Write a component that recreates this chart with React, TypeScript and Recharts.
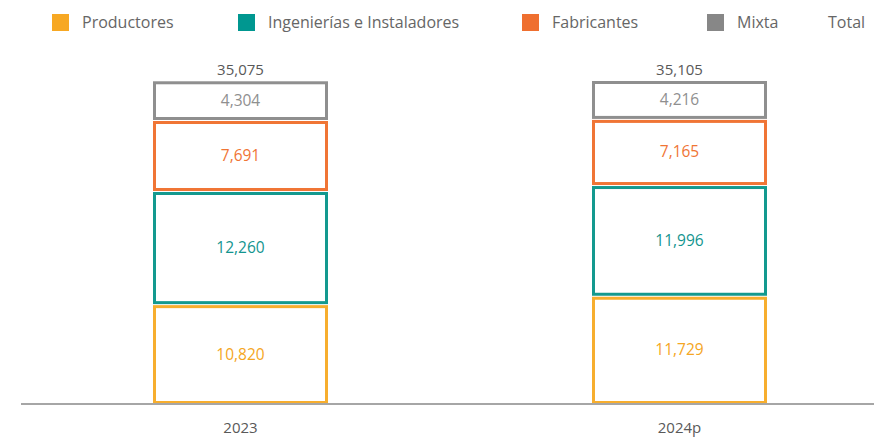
import { BarChart, Bar, XAxis, YAxis, LabelList } from 'recharts';

const YEARS = ['2023', '2024p'];
const PRODUCTORES = [10820, 11729];
const INGENIERIAS = [12260, 11996];
const FABRICANTES = [7691, 7165];
const MIXTA = [4304, 4216];
const TOTALS = [35075, 35105];

const SERIES = [
  { key: 'productores', name: 'Productores', stroke: '#F7AE2E', label: '#F5A623', swatch: '#F7A823' },
  { key: 'ingenierias', name: 'Ingenierías e Instaladores', stroke: '#13998F', label: '#13958F', swatch: '#009790' },
  { key: 'fabricantes', name: 'Fabricantes', stroke: '#F07535', label: '#F07535', swatch: '#EF6F2F' },
  { key: 'mixta', name: 'Mixta', stroke: '#8F8F8F', label: '#8F8F8F', swatch: '#878787' },
];

const data = YEARS.map((year, i) => ({
  year,
  productores: PRODUCTORES[i],
  ingenierias: INGENIERIAS[i],
  fabricantes: FABRICANTES[i],
  mixta: MIXTA[i],
  total: TOTALS[i],
}));

const FONT = '"Open Sans", sans-serif';
const fmt = (v: number) => v.toLocaleString('en-US');

// outlined segment, inset so strokes stay inside and leave a thin gap
function OutlineBar(props: any) {
  const { x, y, width, height, stroke } = props;
  if (!height) return null;
  return (
    <rect
      x={x + 1.5}
      y={y + 2.5}
      width={width - 3}
      height={height - 4}
      fill="#fff"
      stroke={stroke}
      strokeWidth={3}
    />
  );
}

const LEGEND_X = [52, 238, 522, 707];

function ChartLegend() {
  return (
    <div style={{ position: 'absolute', left: 0, top: 0, width: 874, height: 44, fontFamily: FONT, fontSize: 16, color: '#666' }}>
      {SERIES.map((s, i) => (
        <div key={s.key} style={{ position: 'absolute', left: LEGEND_X[i], top: 14, display: 'flex', alignItems: 'center', lineHeight: '17px' }}>
          <span style={{ width: 17, height: 17, background: s.swatch, display: 'inline-block', marginRight: 13 }} />
          <span>{s.name}</span>
        </div>
      ))}
      <div style={{ position: 'absolute', left: 828, top: 14, lineHeight: '17px' }}>Total</div>
    </div>
  );
}

function TotalLabel(props: any) {
  const { x, y, width, index } = props;
  return (
    <text x={x + width / 2} y={y - 5} textAnchor="middle" fill="#595959" fontSize={15} fontFamily={FONT}>
      {fmt(TOTALS[index])}
    </text>
  );
}

export default function App() {
  return (
    <div style={{ position: 'absolute', left: 0, top: 0, width: 874, height: 442, overflow: 'hidden', background: '#fff' }}>
      <BarChart
        width={920}
        height={442}
        data={data}
        margin={{ top: 80, right: 21, bottom: 0, left: 21 }}
        barSize={175}
      >
        <XAxis
          dataKey="year"
          axisLine={{ stroke: '#A6A6A6', strokeWidth: 2 }}
          tickLine={false}
          height={38}
          tickMargin={12}
          tick={{ fill: '#595959', fontSize: 15, fontFamily: FONT }}
        />
        <YAxis hide domain={[0, 35105]} />
        {SERIES.map((s) => (
          <Bar
            key={s.key}
            dataKey={s.key}
            name={s.name}
            stackId="a"
            stroke={s.stroke}
            shape={<OutlineBar />}
            isAnimationActive={false}
          >
            <LabelList
              dataKey={s.key}
              position="center"
              formatter={(v: any) => fmt(v)}
              fill={s.label}
              fontSize={15.5}
              fontFamily={FONT}
            />
            {s.key === 'mixta' && <LabelList dataKey="total" content={<TotalLabel />} />}
          </Bar>
        ))}
      </BarChart>
      <ChartLegend />
    </div>
  );
}
